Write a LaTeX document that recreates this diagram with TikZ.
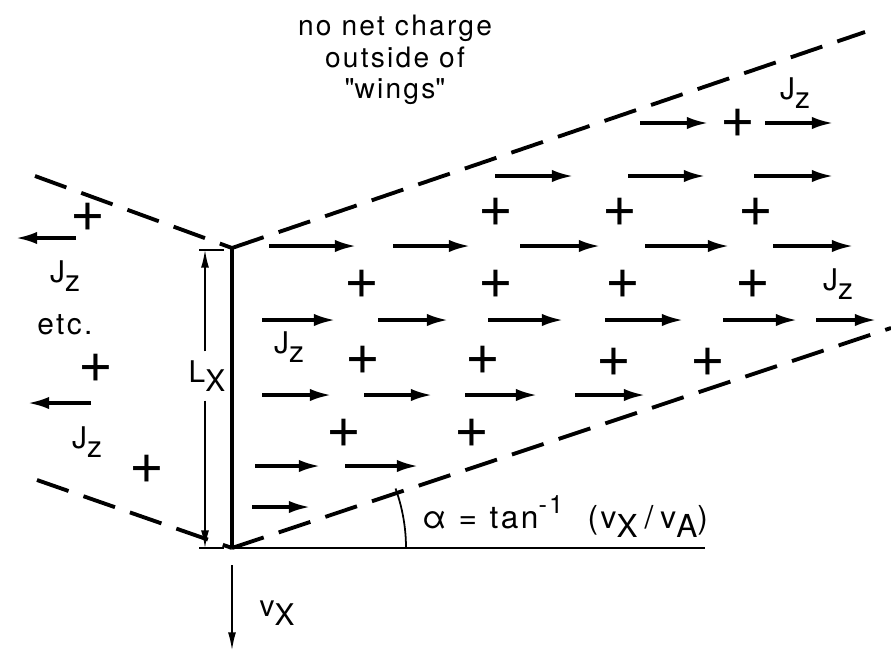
\documentclass[tikz,border=0pt]{standalone}
\usepackage{fontspec}
\setmainfont{TeX Gyre Heros}
\newfontfamily\spaced[LetterSpace=8]{TeX Gyre Heros}
\usetikzlibrary{
    arrows.meta,
}

\newcommand{\lowsub}[1]{\raisebox{-0.6ex}{#1}}

\begin{document}
\begin{tikzpicture}[x=0.02cm, y=-0.02cm,
    every node/.style={font=\fontsize{17}{19}\selectfont, inner sep=1pt},
    current/.style={line width=1.8pt, -{Latex[length=12pt, width=7pt]}},
    wing/.style={line width=2.2pt, dash pattern=on 19pt off 9pt},
    charge/.style={font=\fontsize{34}{34}\selectfont, inner sep=0pt},
    dimline/.style={line width=0.8pt, -{Latex[length=10pt, width=4.5pt]}}]

\useasboundingbox (0,0) rectangle (891,652);

% =============================================================================
% Frame: current sheet, wings and the angle alpha
% =============================================================================
\coordinate (top) at (232,248);
\coordinate (origin) at (232,548);
\coordinate (upperend) at (865,32);
\coordinate (lowerend) at (891,328);
\coordinate (baseend) at (705,548);

% Current sheet of length L_x
\draw[line width=2.8pt] (top) -- (origin);
\draw[line width=1.1pt] (origin) -- (baseend);

% Dashed wings, right and left
\draw[wing] (top) -- (upperend);
\draw[wing] (origin) -- (lowerend);
\draw[wing] (35,176) -- (top);
\draw[wing] (37,480) -- (origin);

% Angle of the wings
\draw[line width=1pt] (origin) ++(0:174) arc[start angle=0, end angle=-20, radius=174];
\node[anchor=base west, font=\spaced\fontsize{18}{20}\selectfont] (alpha) at (420,528)
    {α\hspace{7pt}=\hspace{7pt}tan\raisebox{0.9ex}{\scalebox{0.8}{-1}}\hspace{14pt}(v\lowsub{X}\hspace{4pt}/\hspace{4pt}v\lowsub{A})};

% Dimension L_x
\coordinate (dimtop) at (205,250);
\coordinate (dimbot) at (205,548);
\node[inner sep=5pt] (Lx) at (207,376) {L\lowsub{X}};
\draw[dimline] (Lx.north -| dimtop) -- (dimtop);
\draw[dimline] (Lx.south -| dimbot) -- (dimbot);
\draw[line width=0.8pt] (199,250) -- (224,250);
\draw[line width=0.8pt] (199,548) -- (224,548);

% Velocity of the sheet
\coordinate (vxstart) at (232,565);
\coordinate (vxend) at (232,650);
\draw[dimline] (vxstart) -- (vxend);
\node (vx) at (277,613) {v\lowsub{X}};

% Label above
\node[align=center, font=\spaced\fontsize{16}{18}\selectfont] (nocharge) at (395,60)
    {no net charge\\outside of\\\textquotedbl wings\textquotedbl};

% =============================================================================
% Currents J_z and charges inside the right wings
% =============================================================================
% Row A
\draw[current] (640,123) -- (708,123);
\node[charge] (qa1) at (738,123) {+};
\draw[current] (765,123) -- (833,123);
\node (ja) at (795,93) {J\lowsub{z}};

% Row B
\draw[current] (495,176) -- (573,176);
\draw[current] (628,176) -- (705,176);
\draw[current] (754,176) -- (833,176);
\node[charge] (qb1) at (496,212) {+};
\node[charge] (qb2) at (620,212) {+};
\node[charge] (qb3) at (756,212) {+};

% Row C
\draw[current] (269,246) -- (356,246);
\draw[current] (393,246) -- (470,246);
\draw[current] (520,246) -- (600,246);
\draw[current] (645,246) -- (729,246);
\draw[current] (773,246) -- (853,246);
\node[charge] (qc1) at (362,284) {+};
\node[charge] (qc2) at (496,284) {+};
\node[charge] (qc3) at (623,284) {+};
\node[charge] (qc4) at (753,284) {+};
\node (jc) at (838,284) {J\lowsub{z}};

% Row D
\draw[current] (262,320) -- (335,320);
\draw[current] (378,320) -- (448,320);
\draw[current] (488,320) -- (563,320);
\draw[current] (605,320) -- (683,320);
\draw[current] (723,320) -- (797,320);
\draw[current] (816,320) -- (876,320);
\node (jd) at (289,347) {J\lowsub{z}};
\node[charge] (qd1) at (363,360) {+};
\node[charge] (qd2) at (483,360) {+};
\node[charge] (qd3) at (614,362) {+};
\node[charge] (qd4) at (708,362) {+};

% Row E
\draw[current] (262,395) -- (331,395);
\draw[current] (364,395) -- (432,395);
\draw[current] (465,395) -- (537,395);
\draw[current] (575,395) -- (645,395);
\node[charge] (qe1) at (344,433) {+};
\node[charge] (qe2) at (472,433) {+};

% Rows F and G
\draw[current] (255,466) -- (320,466);
\draw[current] (345,466) -- (418,466);
\draw[current] (252,507) -- (310,507);

% =============================================================================
% Left wings
% =============================================================================
\node[charge] (ql1) at (88,217) {+};
\draw[current] (76,238) -- (16,238);
\node (jl1) at (65,276) {J\lowsub{z}};
\node[font=\spaced\fontsize{17}{19}\selectfont] (etc) at (65,325) {etc.};
\node[charge] (ql2) at (96,368) {+};
\draw[current] (91,403) -- (28,403);
\node (jl2) at (87,442) {J\lowsub{z}};
\node[charge] (ql3) at (147,469) {+};

\end{tikzpicture}
\end{document}
